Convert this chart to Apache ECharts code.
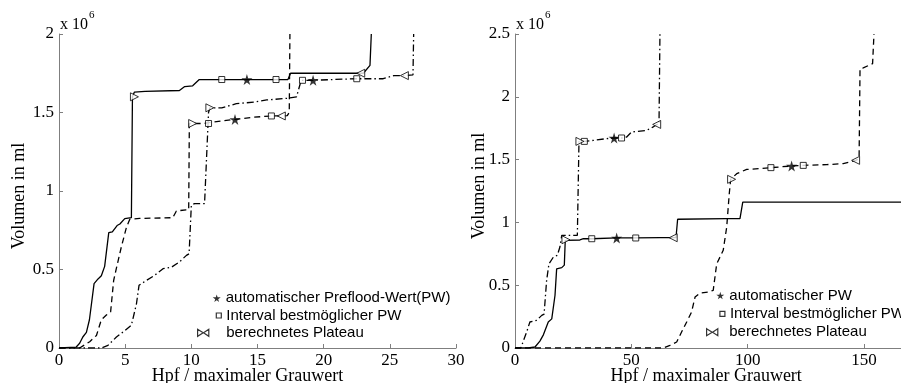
<!DOCTYPE html>
<html>
<head>
<meta charset="utf-8">
<script src="https://cdn.jsdelivr.net/npm/echarts@6/dist/echarts.min.js"></script>
<style>
  html, body { margin: 0; padding: 0; background: #fff; }
  #chart { width: 901px; height: 383px; }
</style>
</head>
<body>
<div id="chart"></div>
<script>
// linke Grafik: x = Hpf / maximaler Grauwert, y = Volumen (x 10^6 ml)
const leftSolid = [[0,0],[1.3,0.006],[1.56,0.03],[1.8,0.07],[2.07,0.1],[2.3,0.18],[2.65,0.41],[2.95,0.44],[3.2,0.46],[3.45,0.52],[3.76,0.735],[4.03,0.74],[4.39,0.78],[4.6,0.79],[4.97,0.824],[5.47,0.83],[5.55,1.6],[5.7,1.63],[6.5,1.635],[9.1,1.64],[9.5,1.665],[10.1,1.67],[10.6,1.71],[17.3,1.71],[17.5,1.75],[23.0,1.75],[23.5,1.8],[23.6,2.0]]
const leftDashed = [[0,0],[1.56,0],[2.32,0.04],[2.83,0.08],[3.2,0.18],[3.58,0.21],[3.9,0.23],[4.13,0.43],[4.33,0.505],[4.7,0.64],[5.1,0.77],[5.35,0.82],[6.1,0.825],[8.6,0.83],[8.87,0.873],[9.6,0.88],[9.8,0.88],[9.85,1.43],[10.1,1.43],[11.0,1.43],[11.3,1.435],[12.65,1.45],[13.3,1.456],[14.7,1.47],[16.05,1.478],[16.8,1.478],[17.25,1.48],[17.4,1.5],[17.45,2.0]]
const leftDashDot = [[0,0],[3.2,0],[3.7,0.017],[4.34,0.07],[4.97,0.11],[5.47,0.145],[5.85,0.28],[6.05,0.4],[6.6,0.43],[7.23,0.463],[7.86,0.505],[8.5,0.515],[9.1,0.548],[9.63,0.59],[9.83,0.6],[10.0,0.91],[10.25,0.92],[11.0,0.92],[11.3,1.5],[11.4,1.53],[12.3,1.53],[13.4,1.556],[14.8,1.567],[15.7,1.58],[17.2,1.59],[17.95,1.6],[18.3,1.705],[19.2,1.705],[20.7,1.71],[22.5,1.715],[24.5,1.715],[25.3,1.735],[26.1,1.735],[26.75,1.74],[26.8,2.0]]
const leftStars = [[14.2,1.71],[13.3,1.456],[19.2,1.705]]
const leftSquares = [[12.3,1.71],[16.4,1.71],[11.3,1.43],[16.05,1.478],[18.4,1.705],[22.5,1.715]]
const leftPlateauStart = [[5.7,1.6],[10.1,1.43],[11.4,1.53]]
const leftPlateauEnd = [[22.8,1.75],[16.8,1.478],[26.1,1.735]]

// rechte Grafik
const rightSolid = [[0,0],[5.7,0],[8.6,0.008],[10.7,0.055],[12.2,0.105],[14.3,0.207],[15.8,0.232],[17.2,0.42],[17.9,0.63],[20.1,0.64],[21.2,0.66],[21.6,0.857],[21.9,0.86],[27.9,0.86],[29.4,0.87],[33,0.87],[43.7,0.876],[51.9,0.876],[62.3,0.878],[68,0.878],[69.2,0.878],[69.9,1.025],[91,1.03],[96.7,1.03],[97.9,1.162],[200,1.162]]
const rightDashed = [[0,0],[63.8,0],[66.6,0.021],[69.5,0.048],[71.6,0.127],[73.8,0.207],[75.9,0.287],[77.4,0.406],[79.5,0.438],[83.1,0.446],[85.2,0.459],[86.7,0.67],[89.5,0.778],[91,0.963],[92.1,1.229],[92.7,1.343],[93.1,1.343],[95.3,1.388],[99.6,1.422],[105.3,1.428],[110,1.436],[118.9,1.449],[123.9,1.454],[134,1.46],[141.1,1.468],[146.4,1.494],[147.9,1.507],[148.3,2.224],[149.7,2.23],[153.7,2.264],[154.3,2.5]]
const rightDashDot = [[0,0],[2.5,0],[5,0.127],[6.4,0.207],[9.3,0.22],[11.5,0.26],[12.5,0.27],[13.6,0.54],[14.6,0.67],[16.5,0.724],[18.2,0.738],[19.3,0.804],[20.1,0.897],[26.8,0.897],[27.3,0.9],[27.5,1.645],[29.8,1.645],[33.7,1.653],[39.4,1.667],[42.6,1.672],[45.8,1.672],[48,1.68],[50.1,1.72],[56.6,1.733],[59.4,1.76],[60.9,1.78],[61.9,1.78],[62.3,2.5]]
const rightStars = [[43.7,0.876],[42.6,1.672],[118.9,1.449]]
const rightSquares = [[33,0.87],[51.9,0.876],[29.8,1.645],[45.8,1.672],[110,1.436],[123.9,1.454]]
const rightPlateauStart = [[21.9,0.862],[27.9,1.645],[93.1,1.343]]
const rightPlateauEnd = [[68,0.878],[60.9,1.78],[146.4,1.494]]

const legendLeft = ['automatischer Preflood-Wert(PW)', 'Interval bestmöglicher PW', 'berechnetes Plateau']
const legendRight = ['automatischer PW', 'Interval bestmöglicher PW', 'berechnetes Plateau']

const serif = 'Liberation Serif'
const sans = 'Liberation Sans'
const axisGray = '#7f7f7f'
const starPath = 'path://M50,0 L61,35 L98,35 L68,57 L79,91 L50,70 L21,91 L32,57 L2,35 L39,35Z'
const twoTriPath = 'path://M0,0 L8,5 L0,10Z M16,0 L8.5,5 L16,10Z'

let myChart = echarts.init(document.getElementById('chart'))

function xAxisCfg(idx, max, interval, namePad) {
    return {
        type: 'value', gridIndex: idx, min: 0, max: max, interval: interval,
        axisLine: { show: true, onZero: false, lineStyle: { color: axisGray, width: 1 } },
        axisTick: { show: true, inside: true, length: 4, lineStyle: { color: axisGray } },
        splitLine: { show: false },
        axisLabel: { color: '#000', fontFamily: serif, fontSize: 17, margin: 4 },
        name: 'Hpf / maximaler Grauwert',
        nameLocation: 'middle',
        nameGap: 19,
        nameMoveOverlap: false,
        nameTextStyle: { color: '#000', fontFamily: serif, fontSize: 18, padding: namePad }
    }
}

function yAxisCfg(idx, max, gap, namePad) {
    return {
        type: 'value', gridIndex: idx, min: 0, max: max, interval: 0.5,
        axisLine: { show: true, onZero: false, lineStyle: { color: axisGray, width: 1 } },
        axisTick: { show: true, inside: true, length: 4, lineStyle: { color: axisGray } },
        splitLine: { show: false },
        axisLabel: { color: '#000', fontFamily: serif, fontSize: 17, margin: 5 },
        name: 'Volumen in ml',
        nameLocation: 'middle',
        nameGap: gap,
        nameMoveOverlap: false,
        nameTextStyle: { color: '#000', fontFamily: serif, fontSize: 18, padding: namePad }
    }
}

function lineSeries(idx, data, dash) {
    return {
        type: 'line', xAxisIndex: idx, yAxisIndex: idx, data: data,
        showSymbol: false, symbol: 'none', silent: true, z: 2,
        lineStyle: { color: '#000', width: 1.3, type: dash }
    }
}

function markSeries(idx, name, data, symbol, size, rotate, filled) {
    return {
        type: 'scatter', name: name, xAxisIndex: idx, yAxisIndex: idx, data: data,
        symbol: symbol, symbolSize: size, symbolRotate: rotate, z: 5, silent: true,
        itemStyle: filled ? { color: '#000' } : { color: '#fff', borderColor: '#000', borderWidth: 1 }
    }
}

function markerSet(idx, names, stars, squares, starts, ends) {
    return [
        markSeries(idx, names[0], stars, starPath, 11, 0, true),
        markSeries(idx, names[1], squares, 'rect', 6, 0, false),
        markSeries(idx, names[2], starts, 'triangle', 8, -90, false),
        markSeries(idx, names[2], ends, 'triangle', 8, 90, false)
    ]
}

function legendItem(left, top, name, icon, w, h, filled, textPad) {
    return {
        orient: 'vertical', left: left, top: top, padding: 0,
        itemWidth: w, itemHeight: h, selectedMode: false,
        textStyle: { color: '#000', fontFamily: sans, fontSize: 15, padding: [0, 0, 0, textPad] },
        data: [{
            name: name, icon: icon,
            itemStyle: filled ? { color: '#000', borderWidth: 0 } : { color: '#fff', borderColor: '#000', borderWidth: 1.2 }
        }]
    }
}

let option = {
    animation: false,
    backgroundColor: '#fff',
    grid: [
        { left: 59, top: 34, width: 397, height: 314, outerBoundsMode: 'none', containLabel: false },
        { left: 515, top: 34, width: 465.3, height: 314, outerBoundsMode: 'none', containLabel: false }
    ],
    xAxis: [xAxisCfg(0, 30, 5, [0, 20, 0, 0]), xAxisCfg(1, 200, 50, [0, 83, 0, 0])],
    yAxis: [yAxisCfg(0, 2, 31, [0, 10, 0, 0]), yAxisCfg(1, 2.5, 27, [0, 0, 0, 10])],
    legend: [
        legendItem(212.7, 290.7, legendLeft[0], starPath, 8, 8, true, 0),
        legendItem(215.7, 308, legendLeft[1], 'rect', 5, 5, false, 0),
        legendItem(197, 325.3, legendLeft[2], twoTriPath, 12, 7, false, 12),
        legendItem(716.3, 288, legendRight[0], starPath, 8, 8, true, 0),
        legendItem(719.3, 306.3, legendRight[1], 'rect', 5, 5, false, 0),
        legendItem(706, 324.7, legendRight[2], twoTriPath, 12, 7, false, 6)
    ],
    graphic: [
        { type: 'text', left: 60, top: 17, style: { text: 'x 10', font: '16px "Liberation Serif"', fill: '#000' } },
        { type: 'text', left: 89, top: 10, style: { text: '6', font: '11px "Liberation Serif"', fill: '#000' } },
        { type: 'text', left: 516, top: 17, style: { text: 'x 10', font: '16px "Liberation Serif"', fill: '#000' } },
        { type: 'text', left: 545, top: 10, style: { text: '6', font: '11px "Liberation Serif"', fill: '#000' } }
    ],
    series: [
        lineSeries(0, leftSolid, 'solid'),
        lineSeries(0, leftDashed, [6, 4]),
        lineSeries(0, leftDashDot, [7, 3, 1.5, 3]),
        ...markerSet(0, legendLeft, leftStars, leftSquares, leftPlateauStart, leftPlateauEnd),
        lineSeries(1, rightSolid, 'solid'),
        lineSeries(1, rightDashed, [6, 4]),
        lineSeries(1, rightDashDot, [7, 3, 1.5, 3]),
        ...markerSet(1, legendRight, rightStars, rightSquares, rightPlateauStart, rightPlateauEnd)
    ]
}

myChart.setOption(option)
</script>
</body>
</html>
